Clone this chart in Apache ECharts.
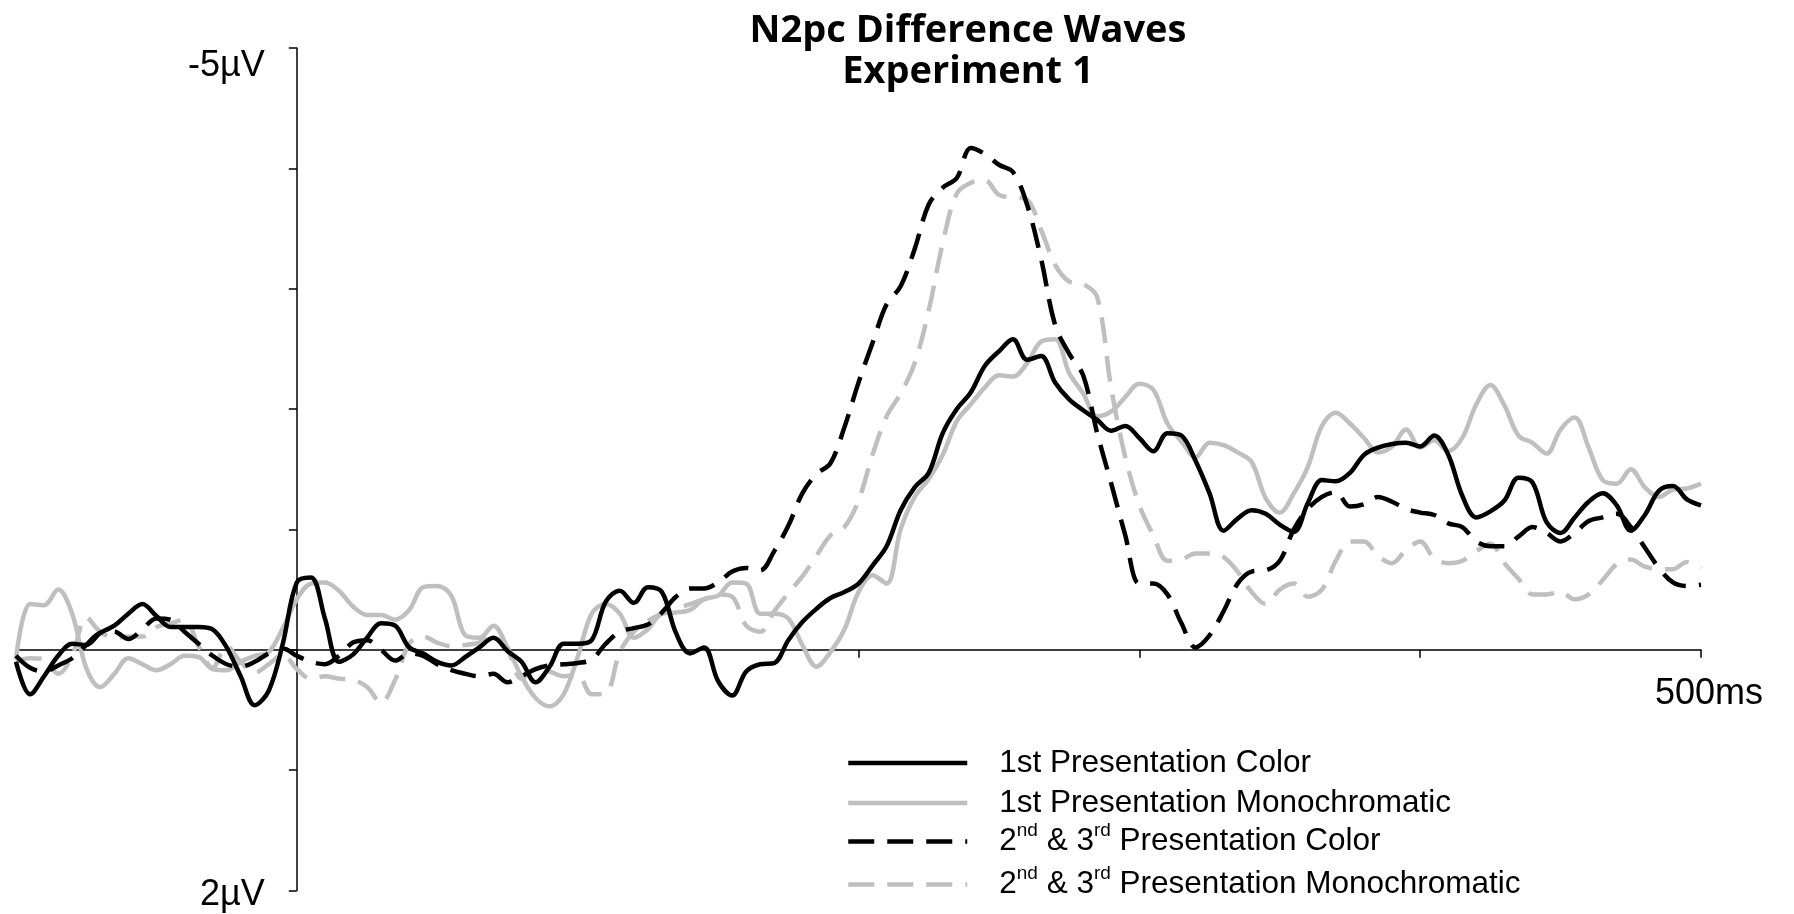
<!DOCTYPE html>
<html><head><meta charset="utf-8">
<script src="https://cdn.jsdelivr.net/npm/echarts@6/dist/echarts.min.js"></script>
<style>html,body{margin:0;padding:0;background:#fff}#c{width:1794px;height:914px}</style>
</head><body><div id="c"></div>
<script>
const titleText = 'N2pc Difference Waves\nExperiment 1';
const seriesNames = ['1st Presentation Color','1st Presentation Monochromatic','2nd & 3rd Presentation Color','2nd & 3rd Presentation Monochromatic'];
const yTickLabels = {'-5':'-5µV','2':'2µV'};
const xTickLabels = {'500':'500ms'};
const timesMs = [-100,-95,-90,-85,-80,-75,-70,-65,-60,-55,-50,-45,-40,-35,-30,-25,-20,-15,-10,-5,
0,5,10,15,20,25,30,35,40,45,50,55,60,65,70,75,80,85,90,95,
100,105,110,115,120,125,130,135,140,145,150,155,160,165,170,175,180,185,190,195,
200,205,210,215,220,225,230,235,240,245,250,255,260,265,270,275,280,285,290,295,
300,305,310,315,320,325,330,335,340,345,350,355,360,365,370,375,380,385,390,395,
400,405,410,415,420,425,430,435,440,445,450,455,460,465,470,475,480,485,490,495,500];
const firstColor = [0.10,0.37,0.22,0.05,-0.05,-0.04,-0.14,-0.20,-0.30,-0.38,
-0.28,-0.19,-0.19,-0.19,-0.17,-0.02,0.22,0.46,0.34,-0.05,
-0.56,-0.60,-0.26,0.10,0.04,-0.10,-0.22,-0.20,-0.02,0.03,
0.10,0.13,0.06,-0.02,-0.10,0.01,0.10,0.27,0.14,-0.05,
-0.05,-0.08,-0.40,-0.49,-0.39,-0.52,-0.48,-0.14,0.03,-0.02,
0.26,0.38,0.18,0.12,0.11,-0.08,-0.23,-0.34,-0.43,-0.48,
-0.55,-0.70,-0.86,-1.16,-1.35,-1.47,-1.80,-2.00,-2.14,-2.36,
-2.48,-2.58,-2.41,-2.44,-2.22,-2.08,-1.99,-1.91,-1.82,-1.86,
-1.76,-1.65,-1.80,-1.78,-1.57,-1.30,-0.99,-1.09,-1.16,-1.13,
-1.04,-0.98,-1.22,-1.41,-1.40,-1.47,-1.62,-1.68,-1.71,-1.72,
-1.69,-1.78,-1.62,-1.28,-1.10,-1.15,-1.24,-1.43,-1.39,-1.06,
-0.97,-1.10,-1.23,-1.30,-1.20,-0.99,-1.12,-1.32,-1.36,-1.25,
-1.20];
const firstMono = [0.08,-0.38,-0.37,-0.50,-0.30,0.15,0.31,0.20,0.07,0.12,
0.17,0.12,0.05,0.06,0.16,0.17,0.10,0.05,0.02,-0.18,
-0.42,-0.55,-0.56,-0.49,-0.36,-0.29,-0.29,-0.25,-0.33,-0.52,
-0.53,-0.45,-0.12,-0.10,-0.20,-0.02,0.22,0.40,0.47,0.37,
0.06,-0.30,-0.38,-0.30,-0.10,-0.17,-0.30,-0.31,-0.33,-0.42,
-0.45,-0.56,-0.55,-0.30,-0.30,-0.26,-0.04,0.14,0.02,-0.17,
-0.48,-0.62,-0.55,-1.00,-1.27,-1.42,-1.62,-1.90,-2.04,-2.18,
-2.28,-2.27,-2.38,-2.56,-2.58,-2.30,-2.13,-1.94,-1.98,-2.10,
-2.21,-2.16,-1.88,-1.73,-1.60,-1.72,-1.70,-1.64,-1.56,-1.26,
-1.14,-1.30,-1.52,-1.86,-1.97,-1.88,-1.76,-1.64,-1.69,-1.83,
-1.68,-1.74,-1.65,-1.76,-2.04,-2.20,-2.03,-1.78,-1.72,-1.63,
-1.83,-1.93,-1.68,-1.41,-1.38,-1.50,-1.35,-1.27,-1.33,-1.34,
-1.38];
const laterColor = [0.05,0.15,0.18,0.13,0.07,-0.04,-0.14,-0.15,-0.09,-0.17,
-0.26,-0.25,-0.15,-0.05,0.05,0.12,0.14,0.10,0.03,-0.01,
0.05,0.10,0.12,0.05,-0.06,-0.08,0.00,0.09,0.03,0.05,
0.12,0.17,0.20,0.22,0.20,0.27,0.22,0.16,0.13,0.12,
0.11,0.08,-0.05,-0.15,-0.18,-0.21,-0.31,-0.44,-0.51,-0.51,
-0.56,-0.65,-0.68,-0.66,-0.82,-1.03,-1.30,-1.46,-1.55,-1.85,
-2.22,-2.55,-2.87,-3.02,-3.33,-3.70,-3.84,-3.92,-4.17,-4.12,
-4.03,-3.97,-3.70,-3.25,-2.70,-2.46,-2.28,-1.80,-1.38,-0.95,
-0.55,-0.55,-0.46,-0.22,-0.02,-0.12,-0.32,-0.55,-0.65,-0.66,
-0.74,-1.00,-1.17,-1.27,-1.31,-1.19,-1.21,-1.27,-1.23,-1.17,
-1.14,-1.12,-1.05,-1.02,-0.90,-0.86,-0.86,-0.94,-1.02,-0.97,
-0.90,-0.97,-1.07,-1.10,-1.13,-1.02,-0.85,-0.68,-0.56,-0.53,
-0.54];
const laterMono = [0.10,0.07,0.08,0.20,0.05,-0.27,-0.15,-0.10,-0.11,-0.11,
-0.19,-0.22,-0.25,-0.03,0.15,-0.03,0.10,0.19,0.12,0.04,
0.16,0.24,0.22,0.24,0.25,0.31,0.44,0.25,-0.05,-0.11,
-0.06,-0.03,-0.04,-0.06,-0.12,0.00,0.24,0.16,0.18,0.22,
0.21,0.37,0.36,0.02,-0.15,-0.24,-0.30,-0.34,-0.38,-0.42,
-0.46,-0.44,-0.20,-0.15,-0.32,-0.47,-0.61,-0.78,-0.95,-1.02,
-1.24,-1.62,-1.94,-2.13,-2.38,-2.82,-3.38,-3.79,-3.88,-3.90,
-3.78,-3.76,-3.74,-3.49,-3.20,-3.06,-3.04,-2.93,-2.17,-1.60,
-1.20,-0.95,-0.74,-0.75,-0.80,-0.80,-0.77,-0.65,-0.48,-0.38,
-0.50,-0.55,-0.44,-0.50,-0.74,-0.90,-0.90,-0.78,-0.72,-0.83,
-0.90,-0.76,-0.72,-0.74,-0.82,-0.88,-0.72,-0.59,-0.46,-0.46,
-0.48,-0.42,-0.46,-0.58,-0.71,-0.75,-0.69,-0.67,-0.67,-0.73,
-0.68];

const pairs = vals => timesMs.map((t, i) => [t, vals[i]]);
const GRAY = '#bfbfbf';
const DASH = [26, 13];
const LW = 4.5;
const legendFont = "'Liberation Sans',Arial,sans-serif";
const axisFont = "'Liberation Sans',Arial,sans-serif";
const GRID = { left: 16, right: 93, top: 48, bottom: 23.5 };

const seriesStyles = [
  { color: '#000', dashed: false },
  { color: GRAY, dashed: false },
  { color: '#000', dashed: true },
  { color: GRAY, dashed: true }
];

const legendTops = [743, 783, 821, 864];
const legends = seriesNames.map((n, i) => ({
  show: true, orient: 'vertical', left: 846, top: legendTops[i], padding: 0,
  data: [n], itemWidth: 119, itemHeight: 14, selectedMode: false,
  itemStyle: { opacity: 0 },
  lineStyle: { color: seriesStyles[i].color, width: LW, type: seriesStyles[i].dashed ? DASH : 'solid' },
  formatter: name => name.replace(/(\d)(nd|rd)\b/g, '$1{sup|$2}'),
  textStyle: {
    fontFamily: legendFont, fontSize: 31.5, color: '#000', lineHeight: 40,
    padding: [0, 0, 0, 27],
    rich: { sup: { fontFamily: legendFont, fontSize: 19, lineHeight: 19, color: '#000', padding: [0, 0, 22, 0] } }
  }
}));

const mk = (i, data) => ({
  name: seriesNames[i], type: 'line', data: pairs(data), symbol: 'none', smooth: 0.35,
  lineStyle: { color: seriesStyles[i].color, width: LW, type: seriesStyles[i].dashed ? DASH : 'solid' },
  itemStyle: { color: seriesStyles[i].color }, emphasis: { disabled: true }, animation: false
});

const chart = echarts.init(document.getElementById('c'), null, { renderer: 'canvas' });
chart.setOption({
  backgroundColor: '#fff',
  animation: false,
  title: {
    text: titleText, left: 963, top: 6, textAlign: 'center',
    textStyle: { fontFamily: "'Open Sans',Lato,sans-serif", fontWeight: 'bold', fontSize: 38, lineHeight: 41, color: '#000' }
  },
  legend: legends,
  grid: Object.assign({ containLabel: false, outerBoundsMode: 'none' }, GRID),
  xAxis: {
    type: 'value', min: -100, max: 500, interval: 100, position: 'bottom', offset: 0,
    axisLine: { onZero: false, lineStyle: { color: '#000', width: 1.5 } },
    axisTick: { show: true, inside: false, length: 8, lineStyle: { color: '#000', width: 1.5 } },
    splitLine: { show: false },
    axisLabel: {
      show: true, showMinLabel: true, showMaxLabel: true, hideOverlap: false,
      margin: 26, fontFamily: axisFont, fontSize: 36, color: '#000',
      formatter: v => xTickLabels[String(v)] ? '{ms|' + xTickLabels[String(v)] + '}' : '',
      rich: { ms: { fontFamily: axisFont, fontSize: 36, color: '#000', padding: [0, 0, 0, 16] } }
    }
  },
  yAxis: {
    type: 'value', inverse: true, min: -5, max: 2, interval: 1, position: 'left', offset: 0,
    axisLine: { show: true, onZero: false, lineStyle: { color: '#000', width: 1.5 } },
    axisTick: { show: true, inside: false, length: 8, lineStyle: { color: '#000', width: 1.5 } },
    splitLine: { show: false },
    axisLabel: {
      show: true, showMinLabel: true, showMaxLabel: true, hideOverlap: false,
      margin: 32, fontFamily: axisFont, fontSize: 36, color: '#000',
      formatter: v => {
        const s = yTickLabels[String(v)];
        if (!s) return '';
        return v < 0 ? '{lo|' + s + '}' : '{n|' + s + '}';
      },
      rich: {
        lo: { fontFamily: axisFont, fontSize: 36, color: '#000', padding: [36, 0, 0, 0] },
        n: { fontFamily: axisFont, fontSize: 36, color: '#000', padding: [10, 0, 0, 0] }
      }
    }
  },
  series: [mk(3, laterMono), mk(1, firstMono), mk(2, laterColor), mk(0, firstColor)]
});

// Move each axis (line, ticks and labels together) so it crosses the other axis at zero.
const x0px = chart.convertToPixel({ xAxisIndex: 0 }, 0);
const y0px = chart.convertToPixel({ yAxisIndex: 0 }, 0);
const gridBottomPx = chart.getHeight() - GRID.bottom;
chart.setOption({
  yAxis: { offset: -(x0px - GRID.left) },
  xAxis: { offset: -(gridBottomPx - y0px) }
});
</script>
</body></html>
